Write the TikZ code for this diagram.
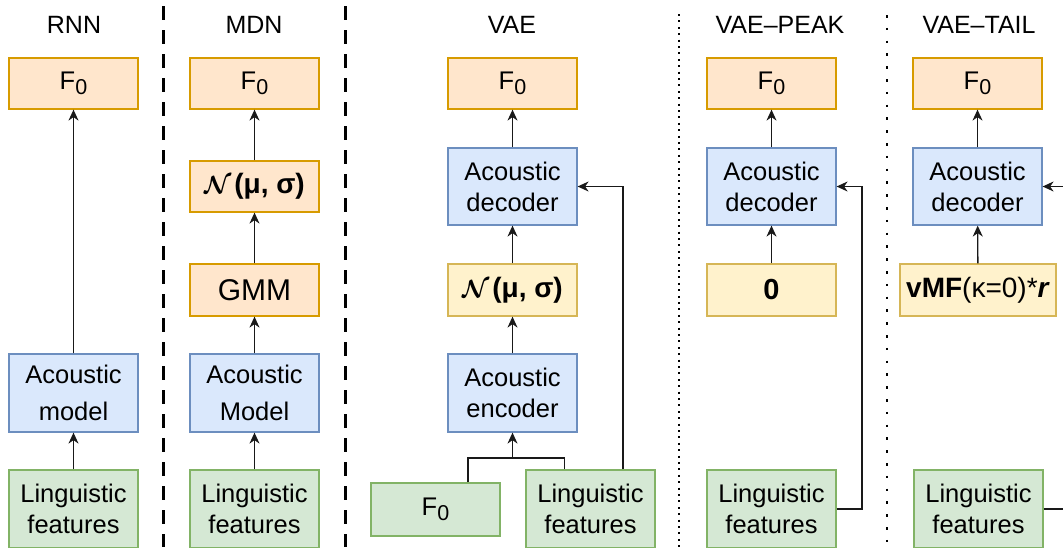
\documentclass[tikz,border=0pt]{standalone}
\usepackage{fontspec}
\usepackage{bm}
\setmainfont{Liberation Sans}
\usetikzlibrary{arrows.meta,calc}
\definecolor{orgF}{HTML}{FFE6CC}\definecolor{orgD}{HTML}{D79B00}
\definecolor{bluF}{HTML}{DAE8FC}\definecolor{bluD}{HTML}{6C8EBF}
\definecolor{grnF}{HTML}{D5E8D4}\definecolor{grnD}{HTML}{82B366}
\definecolor{yelF}{HTML}{FFF2CC}\definecolor{yelD}{HTML}{D6B656}
\newcommand{\Fzero}{F\raisebox{-5.5pt}{\fontsize{21.5}{21.5}\selectfont 0}}
\newcommand{\Nmusig}{{\fontsize{30}{32}\selectfont$\bm{\mathcal{N}}$}\hspace{3pt}{\fontsize{28}{32}\selectfont\textbf{(μ, σ)}}}
\tikzset{
  box/.style={draw, rectangle, line width=1.2pt, minimum width=129pt, inner sep=0pt, align=center, font=\fontsize{25.5}{31}\selectfont},
  orgbox/.style={box, fill=orgF, draw=orgD},
  blubox/.style={box, fill=bluF, draw=bluD},
  grnbox/.style={box, fill=grnF, draw=grnD},
  yelbox/.style={box, fill=yelF, draw=yelD},
  wide/.style={font=\fontsize{25.5}{37}\selectfont},
  title/.style={font=\fontsize{25}{30}\selectfont, inner sep=0pt},
  arr/.style={-{Stealth[length=11pt,width=10pt,inset=3.5pt]}, line width=1.3pt, draw=black!90},
  conn/.style={line width=1.3pt, draw=black!90},
  sepdash/.style={line width=3pt, dash pattern=on 14pt off 10pt},
  sepdotA/.style={line width=2pt, dash pattern=on 2pt off 4.4pt},
  sepdotB/.style={line width=2.5pt, dash pattern=on 2.5pt off 10.3pt}
}
\begin{document}
\begin{tikzpicture}[x=1pt,y=-1pt]
\useasboundingbox (0,0) rectangle (1063,547);
\clip (0,0) rectangle (1063,547);
% separators
\coordinate (s1t) at (163,6); \coordinate (s1b) at (163,547);
\coordinate (s2t) at (345,6); \coordinate (s2b) at (345,547);
\coordinate (s3t) at (679,14); \coordinate (s3b) at (679,547);
\coordinate (s4t) at (887,15); \coordinate (s4b) at (887,547);
\draw[sepdash] (s1t) -- (s1b);
\draw[sepdash] (s2t) -- (s2b);
\draw[sepdotA] (s3t) -- (s3b);
\draw[sepdotB] (s4t) -- (s4b);
% titles
\node[title] (tRNN) at (74,25) {RNN};
\node[title] (tMDN) at (254,25) {MDN};
\node[title] (tVAE) at (512,25) {VAE};
\node[title] (tPK) at (780,25) {VAE–PEAK};
\node[title] (tTL) at (979,25) {VAE–TAIL};
% RNN
\node[orgbox, minimum height=51pt] (rF0) at (73.5,83.5) {\Fzero};
\node[blubox, wide, minimum height=78pt] (rAM) at (73.5,393) {Acoustic\\model};
\node[grnbox, minimum height=78pt] (rLF) at (73.5,509) {Linguistic\\features};
\draw[arr] (rLF) -- (rAM);
\draw[arr] (rAM) -- (rF0);
% MDN
\node[orgbox, minimum height=51pt] (mF0) at (254.5,83.5) {\Fzero};
\node[orgbox, minimum height=51pt] (mN) at (254.5,186.5) {\Nmusig};
\node[orgbox, minimum height=52pt, font=\fontsize{30}{36}\selectfont] (mG) at (254.5,290) {GMM};
\node[blubox, wide, minimum height=78pt] (mAM) at (254.5,393) {Acoustic\\Model};
\node[grnbox, minimum height=78pt] (mLF) at (254.5,509) {Linguistic\\features};
\draw[arr] (mLF) -- (mAM);
\draw[arr] (mAM) -- (mG);
\draw[arr] (mG) -- (mN);
\draw[arr] (mN) -- (mF0);
% VAE
\node[orgbox, minimum height=51pt] (vF0) at (512.5,83.5) {\Fzero};
\node[blubox, minimum height=77pt] (vDec) at (512.5,186.5) {Acoustic\\decoder};
\node[yelbox, minimum height=52pt] (vN) at (512.5,290) {\Nmusig};
\node[blubox, minimum height=78pt] (vEnc) at (512.5,393) {Acoustic\\encoder};
\node[grnbox, minimum height=53pt] (vF0in) at (435.5,509.5) {\Fzero};
\node[grnbox, minimum height=78pt] (vLF) at (590.5,509) {Linguistic\\features};
\coordinate (jy) at (0,458);
\coordinate (vJ) at (vEnc.south |- jy);
\coordinate (vA) at ($(vF0in.north west)!0.75!(vF0in.north east)$);
\coordinate (vB) at ($(vLF.north west)!0.3!(vLF.north east)$);
\coordinate (vC) at ($(vLF.north west)!0.75!(vLF.north east)$);
\draw[conn] (vA) |- (vJ);
\draw[conn] (vB) |- (vJ);
\draw[arr] (vJ) -- (vEnc.south);
\draw[arr] (vEnc) -- (vN);
\draw[arr] (vN) -- (vDec);
\draw[arr] (vDec) -- (vF0);
\draw[arr] (vC) |- (vDec.east);
% VAE-PEAK
\node[orgbox, minimum height=51pt] (pF0) at (771.5,83.5) {\Fzero};
\node[blubox, minimum height=77pt] (pDec) at (771.5,186.5) {Acoustic\\decoder};
\node[yelbox, minimum height=52pt, font=\fontsize{29}{35}\selectfont\bfseries] (pZ) at (771.5,290) {0};
\node[grnbox, minimum height=78pt] (pLF) at (771.5,509) {Linguistic\\features};
\coordinate (pR) at (862,509);
\draw[arr] (pZ) -- (pDec);
\draw[arr] (pDec) -- (pF0);
\draw[arr] (pLF.east) -- (pR) |- (pDec.east);
% VAE-TAIL
\node[orgbox, minimum height=51pt] (tF0) at (977.5,83.5) {\Fzero};
\node[blubox, minimum height=77pt] (tDec) at (977.5,186.5) {Acoustic\\decoder};
\node[yelbox, minimum height=52pt, minimum width=156pt, font=\fontsize{28}{34}\selectfont] (tV) at (978,290) {\textbf{vMF}(κ=0)*\textbf{\textit{r}}};
\node[grnbox, minimum height=78pt] (tLF) at (978.5,509) {Linguistic\\features};
\coordinate (tR) at (1075,509);
\draw[arr] (tV) -- (tDec);
\draw[arr] (tDec) -- (tF0);
\draw[arr] (tLF.east) -- (tR) |- (tDec.east);
\end{tikzpicture}
\end{document}
